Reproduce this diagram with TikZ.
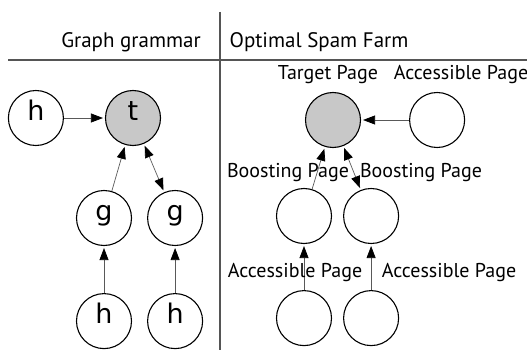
\documentclass[tikz,border=0pt]{standalone}
\usepackage{fontspec}
\setmainfont{PT Sans}
\newfontfamily\letterfont{DejaVu Sans}
\usetikzlibrary{arrows.meta,positioning}
\definecolor{targetgray}{RGB}{200,200,200}
\definecolor{rulegray}{RGB}{85,85,85}

\begin{document}
\begin{tikzpicture}[
    x=1pt, y=-1pt,
    vertex/.style={draw, circle, line width=1.1pt, minimum size=55pt, inner sep=0pt,
      text height=0.75em, text depth=0.25em, font=\letterfont\fontsize{27}{27}\selectfont},
    target/.style={vertex, fill=targetgray},
    caption/.style={inner sep=0pt, font=\fontsize{20}{20}\selectfont},
    head/.style={inner sep=0pt, font=\fontsize{21}{21}\selectfont},
    rule/.style={draw=rulegray, line width=1.6pt},
    arrow/.style={-{Triangle[length=12pt, width=9pt, color=black]}, shorten >=2pt,
      draw=black!65, line width=0.7pt},
    biarrow/.style={arrow, shorten <=2pt,
      {Triangle[length=12pt, width=9pt, color=black]}-{Triangle[length=12pt, width=9pt, color=black]}}
]
\useasboundingbox (0,0) rectangle (527,350);

% table rules and headings
\draw[rule] (8,60) -- (527,60);
\draw[rule] (220,12) -- (220,350);
\node[head] (gghead) at (131,42) {Graph grammar};
\node[head] (sfhead) at (319,42) {Optimal Spam Farm};

% graph grammar
\node[target] (t) at (133,118) {t};
\node[vertex, left=41pt of t] (h) {h};
\node[vertex] (gl) at (104,218) {g};
\node[vertex, right=15pt of gl] (gr) {g};
\node[vertex, below=47pt of gl] (hl) {h};
\node[vertex, below=47pt of gr] (hr) {h};
\draw[arrow] (h) -- (t);
\draw[arrow] (gl) -- (t);
\draw[biarrow] (t) -- (gr);
\draw[arrow] (hl) -- (gl);
\draw[arrow] (hr) -- (gr);

% optimal spam farm
\node[target] (tp) at (333,120) {};
\node[vertex, right=48pt of tp] (ap) {};
\node[vertex] (bl) at (304,216) {};
\node[vertex, right=11pt of bl] (br) {};
\node[vertex, below=46pt of bl] (al) {};
\node[vertex, below=46pt of br] (ar) {};
\draw[arrow] (ap) -- (tp);
\draw[arrow] (bl) -- (tp);
\draw[biarrow] (tp) -- (br);
\draw[arrow] (al) -- (bl);
\draw[arrow] (ar) -- (br);

\node[caption] (tplabel) at (328,75) {Target Page};
\node[caption] (aplabel) at (461,75) {Accessible Page};
\node[caption] (bllabel) at (288,173) {Boosting Page};
\node[caption] (brlabel) at (421,173) {Boosting Page};
\node[caption] (allabel) at (295,273) {Accessible Page};
\node[caption] (arlabel) at (449,273) {Accessible Page};
\end{tikzpicture}
\end{document}
